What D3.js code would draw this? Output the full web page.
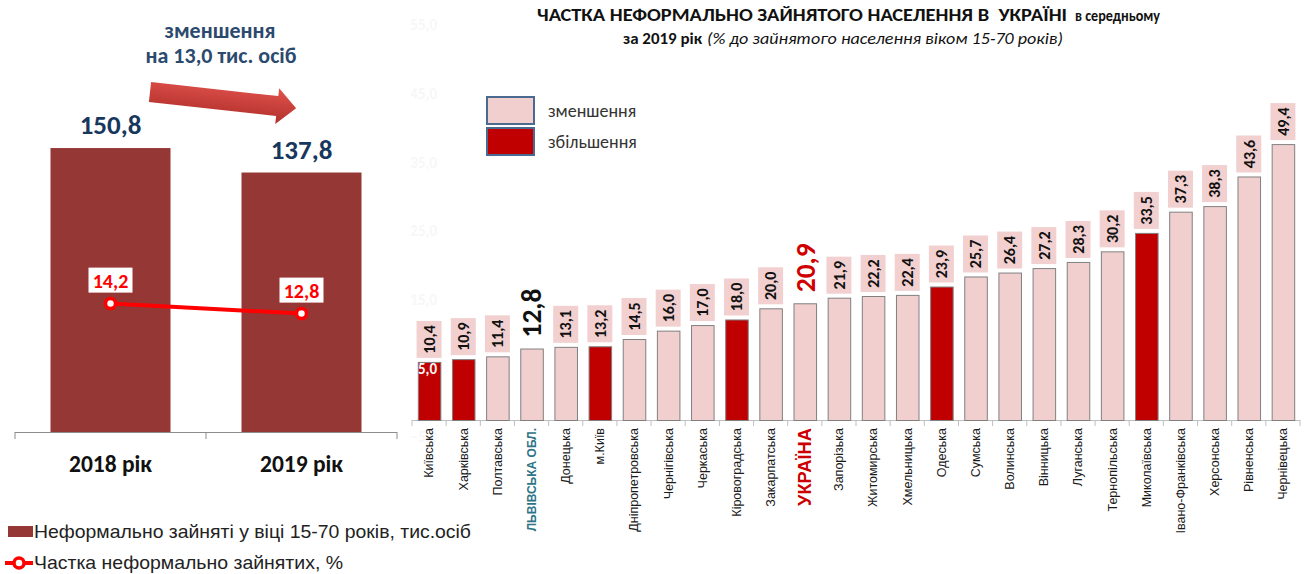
<!DOCTYPE html>
<meta charset="utf-8">
<style>
body { margin: 0; background: #fff; }
svg { display: block; font-family: Roboto, "Liberation Sans", sans-serif; }
.cal { font-family: Carlito, Roboto, sans-serif; }
.ar { font-family: "Liberation Sans", Arial, sans-serif; }
</style>
<svg width="1305" height="574"></svg>
<script src="https://d3js.org/d3.v7.min.js"></script>
<script>

// left chart data
var years = ["2018 рік", "2019 рік"];
var informal = [150.8, 137.8];      // тис. осіб
var share = [14.2, 12.8];           // %

// right chart data
var regions = ["Київська", "Харківська", "Полтавська", "ЛЬВІВСЬКА ОБЛ.", "Донецька", "м.Київ",
  "Дніпропетровська", "Чернігівська", "Черкаська", "Кіровоградська", "Закарпатська", "УКРАЇНА",
  "Запорізька", "Житомирська", "Хмельницька", "Одеська", "Сумська", "Волинська", "Вінницька",
  "Луганська", "Тернопільська", "Миколаївська", "Івано-Франківська", "Херсонська", "Рівненська", "Чернівецька"];
var regionValues = [10.4, 10.9, 11.4, 12.8, 13.1, 13.2, 14.5, 16.0, 17.0, 18.0, 20.0, 20.9,
  21.9, 22.2, 22.4, 23.9, 25.7, 26.4, 27.2, 28.3, 30.2, 33.5, 37.3, 38.3, 43.6, 49.4];
// true = збільшення (red), false = зменшення
var increased = [true, true, false, false, false, true, false, false, false, true, false, false,
  false, false, false, true, false, false, false, false, false, true, false, false, false, false];
var faintTicks = [55, 45, 35, 25, 15, 5, -5];

var fmt = function(v) { return d3.format(".1f")(v).replace(".", ","); };
var special = function(d) { return d === "ЛЬВІВСЬКА ОБЛ." || d === "УКРАЇНА"; };

var svg = d3.select("svg");

var defs = svg.append("defs");
var grad = defs.append("linearGradient").attr("id", "arrowGrad")
    .attr("x1", 0).attr("y1", 0).attr("x2", 0).attr("y2", 1);
grad.append("stop").attr("offset", "0%").attr("stop-color", "#e0524c");
grad.append("stop").attr("offset", "100%").attr("stop-color", "#b3302c");

// ---------- left chart ----------
var xL = d3.scaleBand().domain(years).range([15, 397]).padding(0);
var yL = d3.scaleLinear().domain([0, 160]).range([432, 432 - 160 * 1.883]);
var y2 = d3.scaleLinear().domain([0, 40]).range([405, 405 - 40 * 7.14]);
var barWL = 120;

var left = svg.append("g");

left.selectAll("rect.bar")
  .data(years)
  .enter().append("rect")
    .attr("class", "bar")
    .attr("x", function(d) { return xL(d) + (xL.bandwidth() - barWL) / 2; })
    .attr("y", function(d, i) { return yL(informal[i]); })
    .attr("width", barWL)
    .attr("height", function(d, i) { return yL(0) - yL(informal[i]); })
    .attr("fill", "#953735");

// axis
left.append("line")
    .attr("x1", 15).attr("x2", 397).attr("y1", 432.5).attr("y2", 432.5)
    .attr("stroke", "#8c8c8c");
left.selectAll("line.tk")
  .data([0, 1, 2])
  .enter().append("line")
    .attr("class", "tk")
    .attr("x1", function(i) { return 15 + i * xL.step(); })
    .attr("x2", function(i) { return 15 + i * xL.step(); })
    .attr("y1", 432).attr("y2", 439)
    .attr("stroke", "#8c8c8c");

left.selectAll("text.cat")
  .data(years)
  .enter().append("text")
    .attr("class", "cat cal")
    .attr("x", function(d) { return xL(d) + xL.bandwidth() / 2; })
    .attr("y", 472)
    .attr("text-anchor", "middle")
    .attr("font-size", 23.5)
    .attr("font-weight", "bold")
    .attr("fill", "#111")
    .text(function(d) { return d; });

left.selectAll("text.val")
  .data(years)
  .enter().append("text")
    .attr("class", "val cal")
    .attr("x", function(d) { return xL(d) + xL.bandwidth() / 2; })
    .attr("y", function(d, i) { return yL(informal[i]) - 14; })
    .attr("text-anchor", "middle")
    .attr("font-size", 27)
    .attr("font-weight", "bold")
    .attr("fill", "#17375e")
    .text(function(d, i) { return fmt(informal[i]); });

// line
var line = d3.line()
    .x(function(d, i) { return xL(years[i]) + xL.bandwidth() / 2; })
    .y(function(d) { return y2(d); });
left.append("path")
    .datum(share)
    .attr("d", line)
    .attr("fill", "none")
    .attr("stroke", "#ff0000")
    .attr("stroke-width", 4);

left.selectAll("circle.pt")
  .data(share)
  .enter().append("circle")
    .attr("class", "pt")
    .attr("cx", function(d, i) { return xL(years[i]) + xL.bandwidth() / 2; })
    .attr("cy", function(d) { return y2(d); })
    .attr("r", 5)
    .attr("fill", "#fff")
    .attr("stroke", "#ff0000")
    .attr("stroke-width", 3.5);

var shareLab = left.selectAll("g.sl")
  .data(share)
  .enter().append("g")
    .attr("class", "sl")
    .attr("transform", function(d, i) {
      return "translate(" + (xL(years[i]) + xL.bandwidth() / 2) + "," + (y2(d) - 11) + ")";
    });
shareLab.append("rect")
    .attr("x", -22).attr("y", -25).attr("width", 44).attr("height", 25)
    .attr("fill", "#fff");
shareLab.append("text")
    .attr("class", "cal")
    .attr("y", -5)
    .attr("text-anchor", "middle")
    .attr("font-size", 20)
    .attr("font-weight", "bold")
    .attr("fill", "#ff0000")
    .text(function(d) { return fmt(d); });

// annotation
left.append("text").attr("class", "cal")
    .attr("x", 220).attr("y", 38)
    .attr("text-anchor", "middle").attr("font-size", 22).attr("font-weight", "bold")
    .attr("fill", "#2c4a6e")
    .text("зменшення");
left.append("text").attr("class", "cal")
    .attr("x", 221).attr("y", 63)
    .attr("text-anchor", "middle").attr("font-size", 22).attr("font-weight", "bold")
    .attr("fill", "#2c4a6e")
    .text("на " + fmt(informal[0] - informal[1]) + " тис. осіб");

left.append("path")
    .attr("transform", "translate(150,92) rotate(6.3)")
    .attr("d", "M0,-10 L128,-10 L128,-18 L147,0 L128,18 L128,10 L0,10 Z")
    .attr("fill", "url(#arrowGrad)");

// legend
left.append("rect").attr("x", 8).attr("y", 526).attr("width", 25).attr("height", 11).attr("fill", "#953735");
left.append("text").attr("class", "ar")
    .attr("x", 34).attr("y", 538)
    .attr("font-size", 19).attr("fill", "#222")
    .attr("textLength", 437).attr("lengthAdjust", "spacingAndGlyphs")
    .text("Неформально зайняті у віці 15-70 років, тис.осіб");
left.append("line").attr("x1", 5).attr("x2", 33).attr("y1", 563).attr("y2", 563)
    .attr("stroke", "#ff0000").attr("stroke-width", 4);
left.append("circle").attr("cx", 19).attr("cy", 563).attr("r", 5)
    .attr("fill", "#fff").attr("stroke", "#ff0000").attr("stroke-width", 3.5);
left.append("text").attr("class", "ar")
    .attr("x", 34).attr("y", 569)
    .attr("font-size", 19).attr("fill", "#222")
    .attr("textLength", 309).attr("lengthAdjust", "spacingAndGlyphs")
    .text("Частка неформально зайнятих, %");

// ---------- right chart ----------
var xR = d3.scaleBand().domain(regions).range([412, 1300]).paddingInner(0.34).paddingOuter(0.17);
var yR = d3.scaleLinear().domain([0, 50]).range([420, 420 - 50 * 5.585]);
var yF = d3.scaleLinear().domain([-5, 55]).range([437, 25]);
var step = xR.step();

var right = svg.append("g");

right.append("line")
    .attr("x1", 412).attr("x2", 1300).attr("y1", 420.5).attr("y2", 420.5)
    .attr("stroke", "#bfbfbf");
right.selectAll("line.tk")
  .data(d3.range(regions.length + 1))
  .enter().append("line")
    .attr("class", "tk")
    .attr("x1", function(i) { return 412 + i * step; })
    .attr("x2", function(i) { return 412 + i * step; })
    .attr("y1", 420).attr("y2", 426)
    .attr("stroke", "#bfbfbf");

right.selectAll("rect.bar")
  .data(regions)
  .enter().append("rect")
    .attr("class", "bar")
    .attr("x", function(d) { return xR(d) + 0.5; })
    .attr("y", function(d, i) { return yR(regionValues[i]) + 0.5; })
    .attr("width", xR.bandwidth())
    .attr("height", function(d, i) { return yR(0) - yR(regionValues[i]); })
    .attr("fill", function(d, i) { return increased[i] ? "#c00000" : "#f2cfcf"; })
    .attr("stroke", "#808080")
    .attr("stroke-width", 1);

// faint (nearly white) value-axis labels
right.selectAll("text.faint")
  .data(faintTicks)
  .enter().append("text")
    .attr("class", "faint cal")
    .attr("x", 437)
    .attr("y", function(d) { return yF(d); })
    .attr("dy", "0.35em")
    .attr("text-anchor", "end")
    .attr("font-size", 15)
    .attr("font-weight", "bold")
    .attr("fill", "#f7f7f7")
    .text(function(d) { return fmt(d); });

var lab = right.selectAll("g.lab")
  .data(regions)
  .enter().append("g")
    .attr("class", "lab")
    .attr("transform", function(d, i) {
      return "translate(" + (xR(d) + xR.bandwidth() / 2) + "," + (yR(regionValues[i]) - 4) + ") rotate(-90)";
    });

lab.filter(function(d) { return !special(d); })
  .append("rect")
    .attr("x", 0).attr("y", -12.5).attr("width", 37).attr("height", 25)
    .attr("fill", "#f2d0d0");

lab.append("text")
    .attr("class", "cal")
    .attr("x", function(d) { return special(d) ? 7 : 18.5; })
    .attr("dy", "0.36em")
    .attr("text-anchor", function(d) { return special(d) ? "start" : "middle"; })
    .attr("font-size", function(d) { return special(d) ? 27.5 : 16; })
    .attr("font-weight", "bold")
    .attr("fill", function(d) { return d === "УКРАЇНА" ? "#d00000" : "#111"; })
    .text(function(d, i) { return fmt(regionValues[i]); });

right.selectAll("text.cat")
  .data(regions)
  .enter().append("text")
    .attr("class", "cat ar")
    .attr("transform", function(d) { return "translate(" + (xR(d) + xR.bandwidth() / 2) + ",428) rotate(-90)"; })
    .attr("dy", "0.35em")
    .attr("text-anchor", "end")
    .attr("font-size", function(d) { return d === "УКРАЇНА" ? 19 : d === "ЛЬВІВСЬКА ОБЛ." ? 12 : 12.5; })
    .attr("font-weight", function(d) { return special(d) ? "bold" : null; })
    .attr("fill", function(d) { return d === "УКРАЇНА" ? "#cc0000" : d === "ЛЬВІВСЬКА ОБЛ." ? "#2e7486" : "#1a1a1a"; })
    .each(function(d) { if (d === "УКРАЇНА") d3.select(this).attr("textLength", 78).attr("lengthAdjust", "spacingAndGlyphs"); })
    .text(function(d) { return d; });

// legend
var legKeys = ["зменшення", "збільшення"];
var leg = right.selectAll("g.leg")
  .data(legKeys)
  .enter().append("g")
    .attr("class", "leg")
    .attr("transform", function(d, i) { return "translate(487," + (97 + i * 31) + ")"; });
leg.append("rect")
    .attr("width", 47).attr("height", 27)
    .attr("fill", function(d, i) { return i ? "#c00000" : "#f2cfcf"; })
    .attr("stroke", "#4a6a90").attr("stroke-width", 2);
leg.append("text")
    .attr("class", "cal")
    .attr("x", 61).attr("y", 14).attr("dy", "0.35em")
    .attr("font-size", 18).attr("fill", "#333")
    .text(function(d) { return d; });

// title
svg.append("text").attr("class", "cal")
    .attr("x", 537).attr("y", 21)
    .attr("font-size", 18).attr("font-weight", "bold").attr("fill", "#111")
    .attr("xml:space", "preserve")
    .attr("textLength", 530).attr("lengthAdjust", "spacingAndGlyphs")
    .text("ЧАСТКА НЕФОРМАЛЬНО ЗАЙНЯТОГО НАСЕЛЕННЯ В  УКРАЇНІ");
svg.append("text").attr("class", "cal")
    .attr("x", 1075).attr("y", 21)
    .attr("font-size", 15).attr("font-weight", "bold").attr("fill", "#111")
    .attr("textLength", 85).attr("lengthAdjust", "spacingAndGlyphs")
    .text("в середньому");
svg.append("text").attr("class", "cal")
    .attr("x", 623).attr("y", 44)
    .attr("font-size", 16).attr("font-weight", "bold").attr("fill", "#111")
    .attr("textLength", 79).attr("lengthAdjust", "spacingAndGlyphs")
    .text("за 2019 рік");
svg.append("text").attr("class", "cal")
    .attr("x", 707).attr("y", 44)
    .attr("font-size", 16).attr("font-style", "italic").attr("fill", "#111")
    .attr("textLength", 356).attr("lengthAdjust", "spacingAndGlyphs")
    .text("(% до зайнятого населення віком 15-70 років)");

</script>
